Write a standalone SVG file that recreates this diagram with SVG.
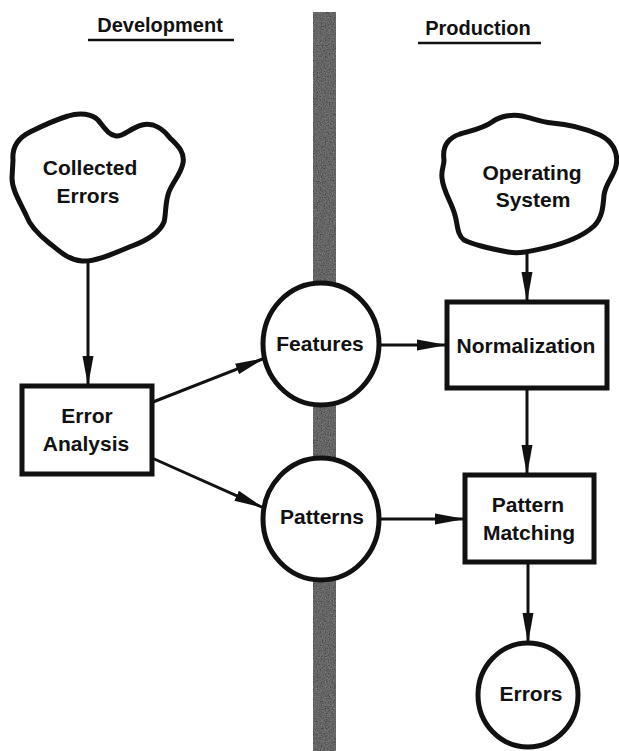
<svg xmlns="http://www.w3.org/2000/svg" width="619" height="751" viewBox="0 0 619 751">
<style>
  .lbl { font-family: "Liberation Sans", Arial, sans-serif; font-weight: bold; font-size: 21px; fill: #111; text-anchor: middle; }
  .hdr { font-family: "Liberation Sans", Arial, sans-serif; font-weight: bold; font-size: 20px; fill: #111; text-anchor: middle; }
  .shape { fill: #fff; stroke: #111; stroke-width: 5; stroke-linejoin: round; }
  .box { fill: #fff; stroke: #111; stroke-width: 5; }
  .conn { fill: none; stroke: #111; stroke-width: 3; marker-end: url(#arrow); }
  .uline { stroke: #111; stroke-width: 2.5; }
</style>
<defs>
  <marker id="arrow" markerUnits="userSpaceOnUse" markerWidth="30" markerHeight="12" viewBox="0 0 30 12" refX="30" refY="6" orient="auto">
    <path d="M0,0.5 L30,6 L0,11.5 Z" fill="#111"/>
  </marker>
  <filter id="grain" x="0" y="0" width="100%" height="100%">
    <feTurbulence type="fractalNoise" baseFrequency="0.75" numOctaves="3" seed="4" result="noise"/>
    <feColorMatrix in="noise" type="matrix" values="0.9 0 0 0 0.05  0.9 0 0 0 0.05  0.9 0 0 0 0.05  0 0 0 0 1" result="gn"/>
    <feBlend in="SourceGraphic" in2="gn" mode="multiply" result="b"/>
    <feComposite in="b" in2="SourceGraphic" operator="in"/>
  </filter>
</defs>
<rect width="619" height="751" fill="#fff"/>

<!-- dividing band -->
<rect id="divider" x="313" y="12" width="23" height="739" fill="#8c8c8c" filter="url(#grain)"/>

<!-- headers -->
<g id="hdr-development">
  <text class="hdr" x="160" y="32">Development</text>
  <line class="uline" x1="88" y1="40" x2="234" y2="40"/>
</g>
<g id="hdr-production">
  <text class="hdr" x="478" y="35">Production</text>
  <line class="uline" x1="418" y1="43" x2="541" y2="43"/>
</g>

<g id="connectors">
  <line class="conn" x1="88" y1="258" x2="88" y2="386"/>
  <line class="conn" x1="153" y1="402" x2="265" y2="358"/>
  <line class="conn" x1="152" y1="458" x2="264" y2="508"/>
  <line class="conn" x1="379" y1="345" x2="447" y2="345"/>
  <line class="conn" x1="380" y1="519" x2="465" y2="519"/>
  <line class="conn" x1="527" y1="252" x2="527" y2="302"/>
  <line class="conn" x1="527" y1="388" x2="527" y2="475"/>
  <line class="conn" x1="528" y1="562" x2="528" y2="643"/>
</g>

<g id="collected-errors">
  <path class="shape" d="M13,160 C12,148 18,138 30,132 C42,126 55,120 68,116 C80,112 92,114 98,120 C104,127 108,135 116,136 C124,137 130,128 142,125 C154,122 164,130 170,138 C178,146 185,152 183,163 C181,175 170,185 168,195 C165,205 166,215 164,222 C160,232 148,240 132,246 C115,253 95,262 82,261 C68,260 58,250 48,242 C38,234 30,226 26,215 C20,202 12,190 12,178 Z"/>
  <text class="lbl" x="90" y="175">Collected</text>
  <text class="lbl" x="88" y="203">Errors</text>
</g>

<g id="operating-system">
  <path class="shape" d="M444,160 C442,146 448,138 460,134 C474,130 484,128 492,122 C500,116 512,114 522,116 C532,118 540,122 552,123 C566,124 584,128 600,135 C612,141 619,152 616,166 C614,176 606,182 604,195 C603,208 602,218 594,226 C582,237 562,244 545,248 C532,251 520,254 508,252 C492,249 474,245 464,240 C456,234 458,222 454,212 C450,200 443,190 442,178 C441,170 444,166 444,160 Z"/>
  <text class="lbl" x="532" y="180">Operating</text>
  <text class="lbl" x="533" y="207">System</text>
</g>

<g id="error-analysis">
  <rect class="box" x="22" y="386" width="130" height="88"/>
  <text class="lbl" x="87" y="423">Error</text>
  <text class="lbl" x="86" y="451">Analysis</text>
</g>

<g id="features">
  <ellipse class="shape" cx="321" cy="344" rx="58" ry="61"/>
  <text class="lbl" x="320" y="351">Features</text>
</g>

<g id="patterns">
  <ellipse class="shape" cx="321" cy="519" rx="58" ry="61"/>
  <text class="lbl" x="322" y="524">Patterns</text>
</g>

<g id="normalization">
  <rect class="box" x="447" y="302" width="160" height="86"/>
  <text class="lbl" x="526" y="353">Normalization</text>
</g>

<g id="pattern-matching">
  <rect class="box" x="465" y="475" width="129" height="87"/>
  <text class="lbl" x="528" y="512">Pattern</text>
  <text class="lbl" x="529" y="540">Matching</text>
</g>

<g id="errors">
  <ellipse class="shape" cx="528" cy="695" rx="50" ry="52"/>
  <text class="lbl" x="531" y="701">Errors</text>
</g>
</svg>
